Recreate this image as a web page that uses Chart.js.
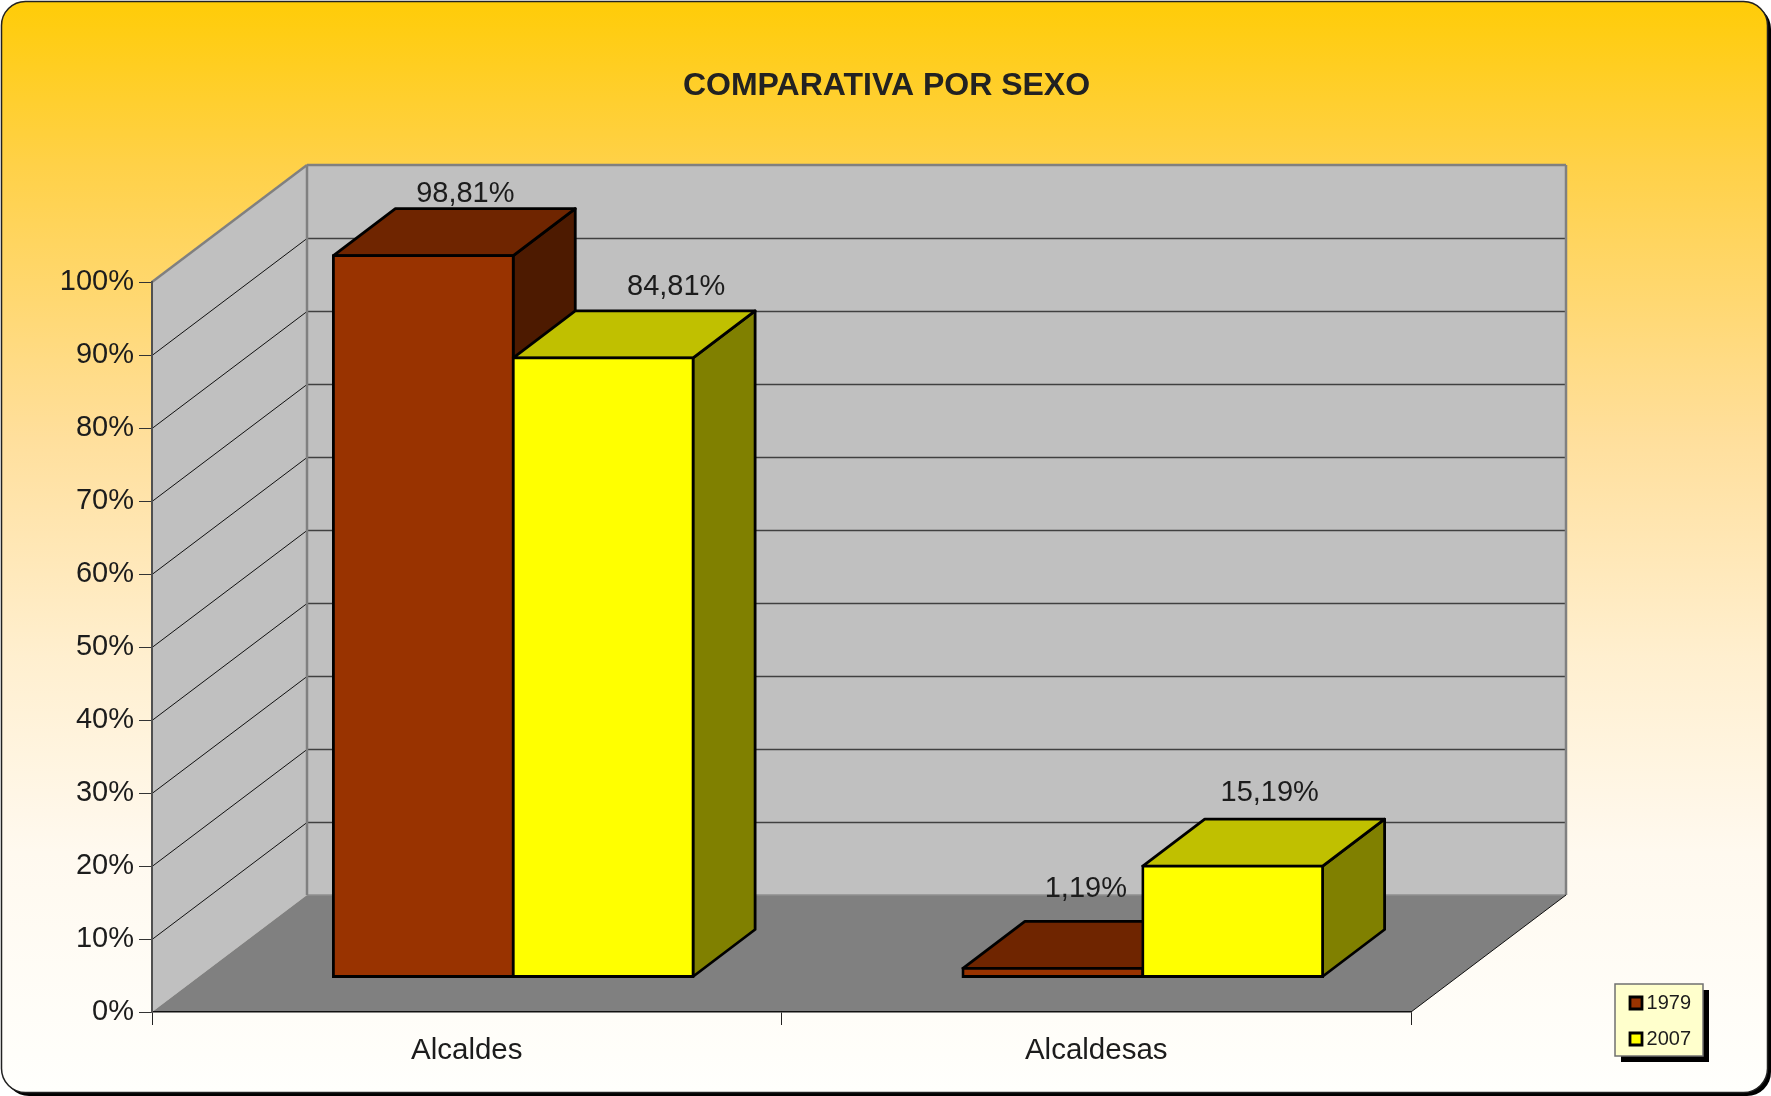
<!DOCTYPE html>
<html lang="es">
<head>
<meta charset="utf-8">
<title>Comparativa por sexo</title>
<script src="https://cdn.jsdelivr.net/npm/chart.js@4/dist/chart.umd.min.js"></script>
<style>
html,body{margin:0;padding:0;background:#fff;overflow:hidden}
canvas{display:block}
</style>
</head>
<body>
<canvas id="c" width="1771" height="1096"></canvas>
<script>
// ---- data ----
const titleText = 'COMPARATIVA POR SEXO';
const categories = ['Alcaldes', 'Alcaldesas'];
const seriesNames = ['1979', '2007'];
const values1979 = [98.81, 1.19];
const values2007 = [84.81, 15.19];

// ---- styling ----
const FONT = '"Liberation Sans", Arial, sans-serif';
const TEXT = '#1c1c1c';
const frontColors = ['#993300', '#FFFF00'];
const topColors = ['#6F2500', '#C0C000'];
const sideColors = ['#4D1A00', '#808000'];
const floorDepth = {x: 155, y: 117};
const barInset = {x: 46.5, y: 35};
const barDepth = {x: 62, y: 47};
const barStroke = 2.8;
// label centre relative to the bar's front-top-centre point: [dataset][category]
const labelNudges = [[[42, -62], [33, -79]], [[73, -71], [37, -73]]];

function poly(ctx, pts, fill, stroke, lw) {
  ctx.beginPath();
  pts.forEach((p, i) => i ? ctx.lineTo(p[0], p[1]) : ctx.moveTo(p[0], p[1]));
  ctx.closePath();
  if (fill) { ctx.fillStyle = fill; ctx.fill(); }
  if (stroke) { ctx.strokeStyle = stroke; ctx.lineWidth = lw; ctx.lineJoin = 'round'; ctx.stroke(); }
}
function line(ctx, a, b, color, lw) {
  ctx.beginPath(); ctx.moveTo(a[0], a[1]); ctx.lineTo(b[0], b[1]);
  ctx.strokeStyle = color; ctx.lineWidth = lw; ctx.stroke();
}

const scene3d = {
  id: 'scene3d',
  beforeDraw(chart) {
    const ctx = chart.ctx, W = chart.width, H = chart.height;
    const a = chart.chartArea, y = chart.scales.y;
    const L = a.left, R = a.right, B = a.bottom, T = a.top;
    const dx = floorDepth.x, dy = floorDepth.y;

    ctx.save();
    // panel with black drop shadow
    ctx.fillStyle = '#fff'; ctx.fillRect(0, 0, W, H);
    ctx.beginPath(); ctx.roundRect(5, 5, W - 5, H - 5, 24); ctx.fillStyle = '#000'; ctx.fill();
    const g = ctx.createLinearGradient(0, 2, 0, 1092);
    g.addColorStop(0, '#FFCC08');
    g.addColorStop(0.15, '#FFD148');
    g.addColorStop(0.40, '#FFDF9C');
    g.addColorStop(0.60, '#FFEFCF');
    g.addColorStop(0.78, '#FFF9EF');
    g.addColorStop(1, '#FFFFFC');
    ctx.beginPath(); ctx.roundRect(1.5, 1.5, W - 5, H - 5, 24);
    ctx.fillStyle = g; ctx.fill();
    ctx.strokeStyle = '#222'; ctx.lineWidth = 1.5; ctx.stroke();

    // walls and floor
    poly(ctx, [[L, T], [L + dx, T - dy], [R + dx, T - dy], [R + dx, B - dy], [L + dx, B - dy], [L, B]], '#C0C0C0');
    poly(ctx, [[L, B], [L + dx, B - dy], [R + dx, B - dy], [R, B]], '#808080');

    // grid lines on left and back walls
    y.ticks.forEach(t => {
      if (t.value === 0 || t.value === 100) return;
      const py = Math.round(y.getPixelForValue(t.value)) + 0.5;
      line(ctx, [L, py], [L + dx, py - dy], '#111', 1);
      line(ctx, [L + dx, py - dy], [R + dx, py - dy], '#404040', 1.4);
    });
    // wall outlines
    line(ctx, [L + dx, B - dy], [R + dx, B - dy], '#8f8f8f', 1.5);
    line(ctx, [L, T], [L + dx, T - dy], '#808080', 2.5);
    line(ctx, [L + dx, T - dy], [R + dx, T - dy], '#808080', 2.5);
    line(ctx, [L + dx, T - dy], [L + dx, B - dy], '#808080', 2.5);
    line(ctx, [R + dx, T - dy], [R + dx, B - dy], '#808080', 2.5);
    line(ctx, [R, B], [R + dx, B - dy], '#111', 1);

    // legend frame
    ctx.fillStyle = '#000'; ctx.fillRect(1621, 990, 88, 72);
    ctx.fillStyle = '#FFFFCC'; ctx.fillRect(1615, 984, 88, 72);
    ctx.strokeStyle = '#707070'; ctx.lineWidth = 1.5; ctx.strokeRect(1615, 984, 88, 72);
    ctx.restore();

    // legend placement
    const lg = chart.legend;
    lg.left = 1614; lg.right = 1691; lg.top = 977; lg.bottom = 1096;
    lg.width = lg.right - lg.left; lg.height = lg.bottom - lg.top;
  },
  // 3D bars have to be painted back to front in series order, so the default
  // dataset pass is replaced by one that runs from the first series to the last.
  beforeDatasetDraw() { return false; },
  beforeDatasetsDraw(chart) {
    const ctx = chart.ctx;
    chart.data.datasets.forEach((ds, i) => {
      const meta = chart.getDatasetMeta(i);
      ctx.save();
      ctx.translate(barInset.x, -barInset.y);
      meta.data.forEach(el => {
        const l = el.x - el.width / 2, r = el.x + el.width / 2, t = el.y, b = el.base;
        const dx = barDepth.x, dy = barDepth.y;
        poly(ctx, [[r, t], [r + dx, t - dy], [r + dx, b - dy], [r, b]], sideColors[i], '#000', barStroke);
        poly(ctx, [[l, t], [l + dx, t - dy], [r + dx, t - dy], [r, t]], topColors[i], '#000', barStroke);
      });
      meta.controller.draw();
      ctx.restore();
    });
  },
  afterDatasetsDraw(chart) {
    const ctx = chart.ctx;
    ctx.save();
    ctx.font = '29px ' + FONT;
    ctx.fillStyle = TEXT;
    ctx.textAlign = 'center';
    ctx.textBaseline = 'middle';
    chart.data.datasets.forEach((ds, i) => {
      chart.getDatasetMeta(i).data.forEach((el, j) => {
        const n = labelNudges[i][j];
        const txt = ds.data[j].toFixed(2).replace('.', ',') + '%';
        ctx.fillText(txt, el.x + barInset.x + n[0], el.y - barInset.y + n[1]);
      });
    });
    ctx.restore();
  },
  afterLayout(chart) {
    const tb = chart.titleBlock;
    tb.left = 2; tb.right = 1771;
  }
};

new Chart(document.getElementById('c'), {
  type: 'bar',
  data: {
    labels: categories,
    datasets: [
      {label: seriesNames[0], data: values1979, backgroundColor: frontColors[0]},
      {label: seriesNames[1], data: values2007, backgroundColor: frontColors[1]}
    ]
  },
  plugins: [scene3d],
  options: {
    responsive: false,
    animation: false,
    events: [],
    devicePixelRatio: 1,
    layout: {padding: {left: 0, top: 0, right: 360, bottom: 0}},
    categoryPercentage: 2 / 3.5,
    barPercentage: 1,
    datasets: {bar: {borderColor: '#000', borderWidth: barStroke, borderSkipped: false, inflateAmount: barStroke / 2, clip: false}},
    scales: {
      x: {
        grid: {drawOnChartArea: false, drawTicks: true, tickLength: 13, color: '#222', offset: true},
        border: {display: true, color: '#111', width: 1.5},
        ticks: {font: {family: FONT, size: 29.5}, color: TEXT, padding: 8, maxRotation: 0, minRotation: 0},
        afterFit(s) { s.height = 84; }
      },
      y: {
        min: 0, max: 100,
        grid: {drawOnChartArea: false, drawTicks: true, tickLength: 13, color: '#333'},
        border: {display: true, color: '#505050', width: 2},
        ticks: {stepSize: 10, font: {family: FONT, size: 29}, color: TEXT, padding: 5, callback: v => v + '%'},
        afterFit(s) { s.width = 152; }
      }
    },
    plugins: {
      tooltip: {enabled: false},
      title: {
        display: true, text: titleText, color: '#222',
        font: {family: FONT, size: 32, weight: 'bold', lineHeight: '38px'},
        padding: {top: 67, bottom: 177}
      },
      legend: {
        display: true, position: 'chartArea', align: 'start',
        labels: {font: {family: FONT, size: 20}, color: TEXT, boxWidth: 12, boxHeight: 12, padding: 16, textAlign: 'right'}
      }
    }
  }
});
</script>
</body>
</html>
